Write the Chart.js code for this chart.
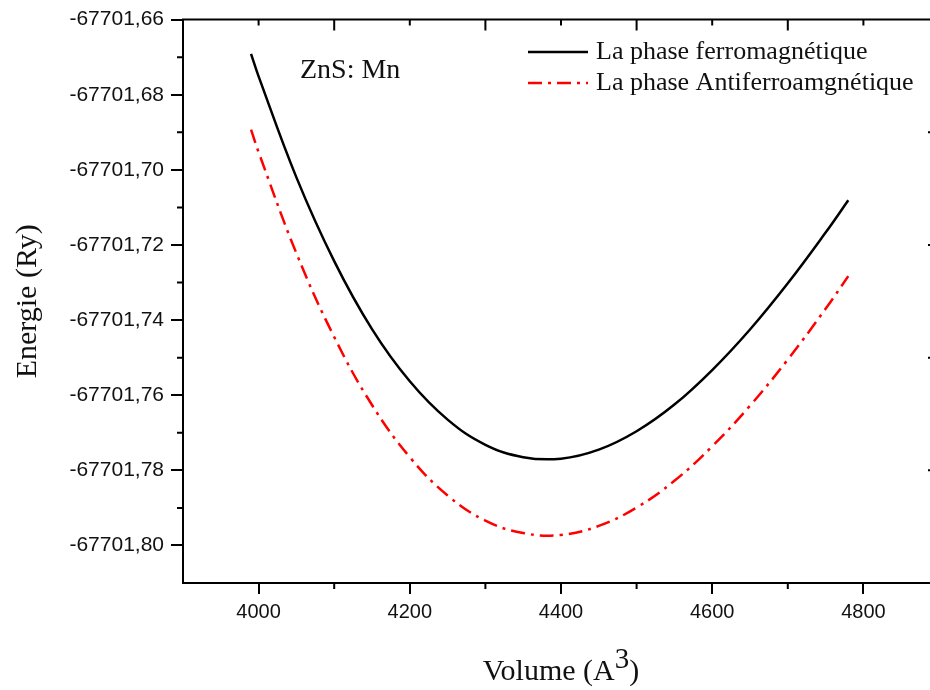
<!DOCTYPE html>
<html>
<head>
<meta charset="utf-8">
<script src="https://cdn.jsdelivr.net/npm/chart.js@4.4.1/dist/chart.umd.min.js"></script>
<style>
    body { margin: 0; background: #fff; }
    #wrap { width: 930px; height: 690px; overflow: hidden; }
</style>
</head>
<body>
<div id="wrap"><canvas id="energyChart" width="945" height="690"></canvas></div>
<script>
// Volume (A^3)
const volumes = [3990, 4000, 4050, 4100, 4150, 4200, 4250, 4300, 4350, 4400,
                 4450, 4500, 4550, 4600, 4650, 4700, 4750, 4780];
// Energie (Ry) - phase ferromagnetique
const eFerro = [-67701.6691, -67701.6751, -67701.7020, -67701.7243, -67701.7424, -67701.7563,
                -67701.7665, -67701.7732, -67701.7765, -67701.7769, -67701.7745, -67701.7696,
                -67701.7625, -67701.7533, -67701.7425, -67701.7302, -67701.7167, -67701.7081];
// Energie (Ry) - phase antiferromagnetique
const eAntiferro = [-67701.6893, -67701.6953, -67701.7222, -67701.7445, -67701.7626, -67701.7765,
                    -67701.7867, -67701.7934, -67701.7967, -67701.7972, -67701.7948, -67701.7899,
                    -67701.7828, -67701.7736, -67701.7628, -67701.7505, -67701.7370, -67701.7283];

const seriesLabels = ['La phase ferromagnétique', 'La phase Antiferroamgnétique'];

// axis ticks
const xTicks = [4000, 4200, 4400, 4600, 4800];
const xMinor = [4100, 4300, 4500, 4700];
const topLong = [4100, 4300, 4500, 4700];
const topShort = [4000, 4200, 4400, 4600, 4800];
const yTicks = [-67701.80, -67701.78, -67701.76, -67701.74, -67701.72, -67701.70, -67701.68, -67701.66];
const yMinor = [-67701.79, -67701.77, -67701.75, -67701.73, -67701.71, -67701.69, -67701.67];
const rightTicks = [-67701.69, -67701.72, -67701.75, -67701.78];

const serif = 'Liberation Serif';
const sans = 'Liberation Sans';

// extra frame: top/right axes, minor ticks, legend, notes and x title
const framePlugin = {
    id: 'frame',
    afterDraw(chart) {
        const { ctx, chartArea: a, scales: { x, y } } = chart;
        ctx.save();
        ctx.strokeStyle = '#000';
        ctx.lineWidth = 2;
        ctx.setLineDash([]);
        ctx.beginPath();
        ctx.moveTo(a.left - 1, a.top);
        ctx.lineTo(a.right, a.top);
        ctx.lineTo(a.right, a.bottom);
        yMinor.forEach(v => {
            const py = y.getPixelForValue(v);
            ctx.moveTo(a.left - 6, py); ctx.lineTo(a.left, py);
        });
        xMinor.forEach(v => {
            const px = x.getPixelForValue(v);
            ctx.moveTo(px, a.bottom); ctx.lineTo(px, a.bottom + 6);
        });
        topLong.forEach(v => {
            const px = x.getPixelForValue(v);
            ctx.moveTo(px, a.top); ctx.lineTo(px, a.top + 11);
        });
        topShort.forEach(v => {
            const px = x.getPixelForValue(v);
            ctx.moveTo(px, a.top); ctx.lineTo(px, a.top + 6);
        });
        rightTicks.forEach(v => {
            const py = y.getPixelForValue(v);
            ctx.moveTo(a.right - 11, py); ctx.lineTo(a.right, py);
        });
        ctx.stroke();

        // legend
        const ds = chart.data.datasets;
        ds.forEach((d, i) => {
            const ly = 52 + i * 31;
            ctx.strokeStyle = d.borderColor;
            ctx.lineWidth = 2.5;
            ctx.setLineDash(d.borderDash || []);
            ctx.beginPath();
            ctx.moveTo(528, ly); ctx.lineTo(588, ly);
            ctx.stroke();
            ctx.setLineDash([]);
            ctx.fillStyle = '#111';
            ctx.font = '26px "' + serif + '"';
            ctx.textBaseline = 'alphabetic';
            ctx.textAlign = 'left';
            ctx.fillText(d.label, 596, ly + 7);
        });

        // sample label
        ctx.font = '28px "' + serif + '"';
        ctx.fillText('ZnS: Mn', 300, 78);

        // x axis title with superscript
        ctx.font = '30px "' + serif + '"';
        const t1 = 'Volume (A';
        const w1 = ctx.measureText(t1).width;
        ctx.font = '29px "' + serif + '"';
        const w2 = ctx.measureText('3').width;
        ctx.font = '30px "' + serif + '"';
        const w3 = ctx.measureText(')').width;
        let tx = (a.left + a.right) / 2 - (w1 + w2 + w3) / 2;
        const base = 680;
        ctx.fillText(t1, tx, base);
        ctx.font = '29px "' + serif + '"';
        ctx.fillText('3', tx + w1, base - 12);
        ctx.font = '30px "' + serif + '"';
        ctx.fillText(')', tx + w1 + w2, base);
        ctx.restore();
    }
};

const ctx = document.getElementById('energyChart').getContext('2d');
new Chart(ctx, {
    type: 'line',
    data: {
        datasets: [{
            label: seriesLabels[0],
            data: volumes.map((v, i) => ({ x: v, y: eFerro[i] })),
            borderColor: '#000000',
            borderWidth: 2.5,
            pointRadius: 0,
            tension: 0.4,
            fill: false
        }, {
            label: seriesLabels[1],
            data: volumes.map((v, i) => ({ x: v, y: eAntiferro[i] })),
            borderColor: '#ff0000',
            borderWidth: 2.5,
            borderDash: [14, 6, 3, 6],
            pointRadius: 0,
            tension: 0.4,
            fill: false
        }]
    },
    options: {
        responsive: false,
        animation: false,
        layout: { padding: { top: 19, right: 6, left: 0, bottom: 0 } },
        plugins: {
            legend: { display: false },
            tooltip: { enabled: false }
        },
        scales: {
            x: {
                type: 'linear',
                min: 3900,
                max: 4900,
                afterBuildTicks: s => { s.ticks = xTicks.map(v => ({ value: v })); },
                afterFit: s => { s.height = 107; },
                border: { display: true, color: '#000', width: 2 },
                grid: { drawOnChartArea: false, color: '#000', lineWidth: 2, tickLength: 11 },
                ticks: {
                    color: '#111',
                    padding: 6,
                    maxRotation: 0,
                    font: { family: sans, size: 20 },
                    callback: v => String(v)
                }
            },
            y: {
                type: 'linear',
                min: -67701.81,
                max: -67701.66,
                afterBuildTicks: s => { s.ticks = yTicks.map(v => ({ value: v })); },
                afterFit: s => { s.width = 183; },
                border: { display: true, color: '#000', width: 2 },
                grid: { drawOnChartArea: false, color: '#000', lineWidth: 2, tickLength: 12 },
                ticks: {
                    color: '#111',
                    padding: 7,
                    font: { family: sans, size: 21 },
                    callback: v => v.toFixed(2).replace('.', ',')
                },
                title: {
                    display: true,
                    text: 'Energie (Ry)',
                    color: '#111',
                    padding: { top: 10, bottom: 0 },
                    font: { family: serif, size: 30 }
                }
            }
        }
    },
    plugins: [framePlugin]
});
</script>
</body>
</html>
